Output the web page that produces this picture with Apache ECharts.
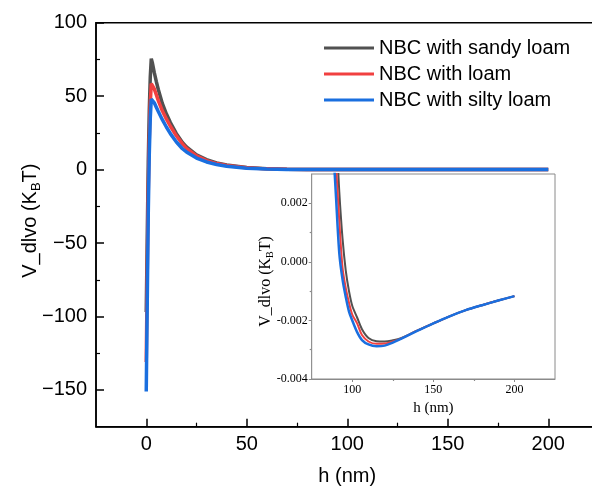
<!DOCTYPE html>
<html>
<head>
<meta charset="utf-8">
<script src="https://cdn.jsdelivr.net/npm/echarts@6/dist/echarts.min.js"></script>
<style>
  html, body { margin: 0; padding: 0; background: #fff; }
  #chart { width: 592px; height: 493px; }
</style>
</head>
<body>
<div id="chart"></div>
<script>
// main panel: h (nm) and V_dlvo (kBT)
const hMain = [0, 0.5, 1, 1.5, 2, 2.5, 3, 4, 5, 6, 8, 10, 12, 15, 18, 20, 25, 30, 35, 40, 50, 60, 70, 80, 100, 125, 150, 175, 200];
const sandyMain = [-97, -45, 5, 40, 63, 75.5, 73, 66, 60, 54.5, 45, 38, 32, 24.5, 18.5, 15.5, 10, 6.8, 4.6, 3.1, 1.4, 0.6, 0.2, 0.05, 0, 0, 0, 0, 0];
const loamMain = [-131, -70, -15, 20, 45, 58.5, 57.5, 55, 51, 47, 40, 34.5, 29.5, 23, 17.5, 14.5, 9.3, 6.1, 4.1, 2.8, 1.2, 0.5, 0.2, 0.05, 0, 0, 0, 0, 0];
const siltyMain = [-151, -90, -30, 10, 35, 48, 47.5, 45.5, 42.5, 39.5, 34, 29, 24.5, 18.8, 14.2, 12, 7.9, 5.2, 3.5, 2.3, 1.0, 0.4, 0.15, 0.04, 0, 0, 0, 0, 0];

// inset: zoom on the secondary minimum
const hInset = [88, 90, 92, 94, 96, 98, 100, 103, 106, 110, 115, 120, 125, 130, 140, 150, 160, 170, 180, 190, 200];
const sandyInset = [0.0062, 0.0045, 0.0024, 0.0008, -0.0003, -0.0010, -0.0015, -0.0019, -0.0023, -0.0026, -0.00271, -0.00272, -0.00268, -0.00261, -0.00235, -0.0021, -0.00186, -0.00165, -0.00148, -0.00132, -0.00117];
const loamInset = [0.0050, 0.0033, 0.0014, -0.0002, -0.0009, -0.0014, -0.0018, -0.0021, -0.0025, -0.00272, -0.0028, -0.00279, -0.00272, -0.00262, -0.00235, -0.0021, -0.00186, -0.00165, -0.00148, -0.00132, -0.00117];
const siltyInset = [0.0042, 0.0022, 0.0003, -0.0006, -0.0012, -0.0017, -0.0020, -0.0024, -0.00267, -0.00282, -0.00288, -0.00286, -0.00276, -0.00263, -0.00236, -0.0021, -0.00186, -0.00165, -0.00148, -0.00132, -0.00117];

const seriesNames = ["NBC with sandy loam", "NBC with loam", "NBC with silty loam"];
const colors = ["#515151", "#F14040", "#1A6FDF"];

const mainXTicks = [0, 50, 100, 150, 200];
const mainXMinor = [25, 75, 125, 175];
const mainYTicks = [-150, -100, -50, 0, 50, 100];
const mainYMinor = [-125, -75, -25, 25, 75];
const insetXTicks = [100, 150, 200];
const insetXMinor = [125, 175];
const insetYTicks = [-0.004, -0.002, 0, 0.002];
const insetYMinor = [-0.003, -0.001, 0.001];

const SANS = "'Liberation Sans', Arial, sans-serif";
const SERIF = "'Liberation Serif', 'Times New Roman', serif";

const pairs = (xs, ys) => xs.map((x, i) => [x, ys[i]]);
const minus = (v) => String(v).replace("-", "\u2212");

const chart = echarts.init(document.getElementById("chart"));

function minorAxis(grid, min, max, interval, pos, vals, len, inside, color) {
  return {
    type: "value", gridIndex: grid, min, max, interval, position: pos,
    axisLine: { show: false, onZero: false },
    axisTick: { show: true, inside, length: len, customValues: vals, lineStyle: { color, width: 1.2 } },
    axisLabel: { show: false },
    splitLine: { show: false },
  };
}

const option = {
  animation: false,
  backgroundColor: "#fff",
  grid: [
    { left: 96, top: 22.7, width: 502.5, height: 404, outerBoundsMode: "none", show: true, borderColor: "#000", borderWidth: 1.5 },
    { left: 311.7, top: 174, width: 243.3, height: 205, outerBoundsMode: "none", show: true, borderColor: "#8a8a8a", borderWidth: 1, backgroundColor: "#fff", z: 3 },
  ],
  legend: {
    orient: "vertical",
    left: 324, top: 38, padding: 0,
    itemWidth: 50, itemHeight: 3, itemGap: 6,
    icon: "rect",
    data: seriesNames,
    textStyle: { fontFamily: SANS, fontSize: 20, color: "#000" },
  },
  xAxis: [
    {
      type: "value", gridIndex: 0, min: -25, max: 225, interval: 25, position: "bottom",
      name: "h (nm)", nameLocation: "middle", nameGap: 40, nameMoveOverlap: false,
      nameTextStyle: { fontFamily: SANS, fontSize: 20, color: "#000" },
      axisLine: { onZero: false, lineStyle: { color: "#000", width: 1.5 } },
      axisTick: { inside: true, length: 8, customValues: mainXTicks, lineStyle: { color: "#000", width: 1.5 } },
      axisLabel: { customValues: mainXTicks, margin: 8, fontFamily: SANS, fontSize: 20, color: "#000" },
      splitLine: { show: false },
    },
    minorAxis(0, -25, 225, 25, "bottom", mainXMinor, 4, true, "#000"),
    {
      type: "value", gridIndex: 1, min: 75, max: 225, interval: 25, position: "bottom",
      name: "h (nm)", nameLocation: "middle", nameGap: 22, nameMoveOverlap: false,
      nameTextStyle: { fontFamily: SERIF, fontSize: 15, color: "#000" },
      axisLine: { onZero: false, lineStyle: { color: "#8a8a8a", width: 1 } },
      axisTick: { inside: false, length: 3, customValues: insetXTicks, lineStyle: { color: "#8a8a8a" } },
      axisLabel: { customValues: insetXTicks, margin: 5, fontFamily: SERIF, fontSize: 12, color: "#000" },
      splitLine: { show: false },
    },
    minorAxis(1, 75, 225, 25, "bottom", insetXMinor, 2, false, "#8a8a8a"),
  ],
  yAxis: [
    {
      type: "value", gridIndex: 0, min: -175, max: 100, interval: 25, position: "left",
      name: "V_dlvo (K{s|B}T)", nameLocation: "middle", nameGap: 53, nameMoveOverlap: false,
      nameTextStyle: {
        fontFamily: SANS, fontSize: 20, color: "#000", lineHeight: 26, padding: [0, 0, 0, 8],
        rich: { s: { fontFamily: SANS, fontSize: 13, verticalAlign: "bottom", color: "#000" } },
      },
      axisLine: { onZero: false, lineStyle: { color: "#000", width: 1.5 } },
      axisTick: { inside: true, length: 8, customValues: mainYTicks, lineStyle: { color: "#000", width: 1.5 } },
      axisLabel: { customValues: mainYTicks, margin: 9, fontFamily: SANS, fontSize: 20, color: "#000", formatter: minus },
      splitLine: { show: false },
    },
    minorAxis(0, -175, 100, 25, "left", mainYMinor, 4, true, "#000"),
    {
      type: "value", gridIndex: 1, min: -0.004, max: 0.003, interval: 0.002, position: "left",
      name: "V_dlvo (K{s|B}T)", nameLocation: "middle", nameGap: 36, nameMoveOverlap: false,
      nameTextStyle: {
        fontFamily: SERIF, fontSize: 16, color: "#000", lineHeight: 19, padding: [0, 10, 0, 0],
        rich: { s: { fontFamily: SERIF, fontSize: 10, verticalAlign: "bottom", color: "#000" } },
      },
      axisLine: { onZero: false, lineStyle: { color: "#8a8a8a", width: 1 } },
      axisTick: { inside: false, length: 3, customValues: insetYTicks, lineStyle: { color: "#8a8a8a" } },
      axisLabel: { customValues: insetYTicks, margin: 4, fontFamily: SERIF, fontSize: 12, color: "#000", formatter: (v) => v.toFixed(3) },
      splitLine: { show: false },
    },
    minorAxis(1, -0.004, 0.003, 0.001, "left", insetYMinor, 2, false, "#8a8a8a"),
  ],
  series: [
    ...[sandyMain, loamMain, siltyMain].map((d, i) => ({
      name: seriesNames[i], type: "line", xAxisIndex: 0, yAxisIndex: 0,
      data: pairs(hMain, d), symbol: "none", smooth: false,
      lineStyle: { color: colors[i], width: 3.5 }, itemStyle: { color: colors[i] }, z: 2 + i,
    })),
    ...[sandyInset, loamInset, siltyInset].map((d, i) => ({
      name: seriesNames[i], type: "line", xAxisIndex: 2, yAxisIndex: 2,
      data: pairs(hInset, d), symbol: "none", smooth: 0.3, clip: true,
      lineStyle: { color: colors[i], width: i === 2 ? 2.5 : 2 }, itemStyle: { color: colors[i] }, z: 5 + i,
    })),
  ],
};

chart.setOption(option);
</script>
</body>
</html>
